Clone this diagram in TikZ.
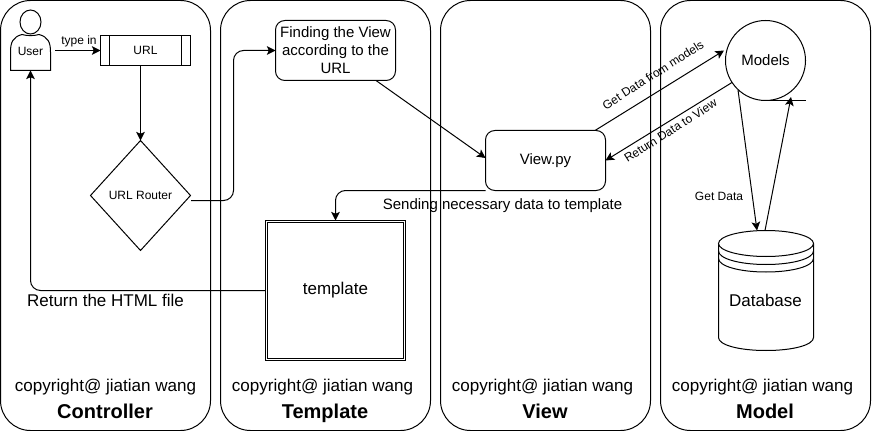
\documentclass[tikz,border=0pt]{standalone}
\usepackage{fontspec}
\setmainfont{Liberation Sans}
\usetikzlibrary{arrows.meta,shapes.geometric}
\definecolor{ink}{HTML}{000000}
\newcommand{\fs}[1]{\fontsize{#1pt}{\dimexpr#1pt*12/10\relax}\selectfont}
\tikzset{
  x=0.75pt,y=-0.75pt,
  every node/.style={inner sep=0pt,outer sep=0pt,text=ink},
  line/.style={draw=ink,line width=0.75pt},
  panel/.style={line,rounded corners=22.5pt},
  arrow/.style={line,-{Stealth[length=6.5pt,width=6.5pt,inset=1.5pt]}},
  elbow/.style={arrow,rounded corners=7.5pt},
  copyline/.style={font=\fs{12.8},anchor=base},
  paneltitle/.style={font=\fs{15}\bfseries,anchor=base},
  lbl/.style={font=\fs{9}},
  lblm/.style={font=\fs{11.25}}
}
\begin{document}
\begin{tikzpicture}
\useasboundingbox (0,0) rectangle (881,431);
\fill[white] (0,0) rectangle (881,431);
% panels
\draw[panel] (0.5,0.5) rectangle (210.5,430.5);
\draw[panel] (220.5,0.5) rectangle (430.5,430.5);
\draw[panel] (440.5,0.5) rectangle (650.5,430.5);
\draw[panel] (660.5,0.5) rectangle (870.5,430.5);
\node[copyline] (c1) at (105.5,391) {copyright@ jiatian wang};
\node[copyline] (c2) at (322.5,391) {copyright@ jiatian wang};
\node[copyline] (c3) at (542.5,391) {copyright@ jiatian wang};
\node[copyline] (c4) at (762.5,391) {copyright@ jiatian wang};
\node[paneltitle] (t1) at (105,418) {Controller};
\node[paneltitle] (t2) at (325,418) {Template};
\node[paneltitle] (t3) at (545,418) {View};
\node[paneltitle] (t4) at (765,418) {Model};
% user
\draw[line,fill=white] (30.5,22) ellipse [x radius=10.5,y radius=12];
\draw[line,fill=white] (10.5,70.5) -- (10.5,52) .. controls (10.5,42) and (13,37) .. (22,34.5)
   .. controls (27,36) and (34,36) .. (39,34.5) .. controls (48,37) and (50.5,42) .. (50.5,52) -- (50.5,70.5) -- cycle;
\node[lbl] (user) at (30.5,51) {User};
\coordinate (userR) at (55,50.5);
\coordinate (userB) at (30.5,70.5);
% url
\node[line,minimum width=67.5pt,minimum height=22.5pt,fill=white,lbl] (url) at (145.5,50.5) {URL};
\draw[line] (109.5,35.5) -- (109.5,65.5) (181.5,35.5) -- (181.5,65.5);
% diamond
\node[line,diamond,minimum width=75pt,minimum height=82.5pt,fill=white,lbl] (router) at (140.5,195.5) {URL Router};
\coordinate (routerR) at (191,200.5);
% find
\node[line,rounded corners=7pt,minimum width=90pt,minimum height=45pt,fill=white,align=center,font=\fs{11.25}] (find) at (335.5,50.5)
 {Finding the View\\according to the\\URL};
\coordinate (findB) at (376,80.5);
% view
\node[line,rounded corners=7pt,minimum width=90pt,minimum height=45pt,fill=white,lblm] (view) at (545.5,160.5) {View.py};
\coordinate (viewT) at (595,130.5);
\coordinate (viewR) at (605.5,160.5);
\coordinate (viewL) at (485.5,158);
\coordinate (viewBL) at (485.5,190.5);
% template
\node[line,minimum width=105pt,minimum height=105pt,fill=white,font=\fs{12.75}] (tpl) at (335.5,290.5) {template};
\draw[line] (267.8,222.8) rectangle (403.2,358.2);
\coordinate (tplL) at (265.5,290.5);
\coordinate (tplT) at (335.5,220.5);
% models
\node[line,circle,minimum size=60pt,fill=white,lblm] (models) at (765.5,60.5) {Models};
\coordinate (mA) at (724,50.5);
\coordinate (mB) at (732,82.5);
\coordinate (mC) at (738,90);
\coordinate (mD) at (791,97);
\coordinate (mTailA) at (765.5,100.5);
\coordinate (mTailB) at (806,100.5);
% database
\draw[line,fill=white] (718.5,243.5) -- (718.5,337.5) .. controls (718.5,345) and (739,350.5) .. (766,350.5)
  .. controls (793,350.5) and (813.5,345) .. (813.5,337.5) -- (813.5,243.5);
\draw[line,fill=white] (766,243.5) ellipse [x radius=47.5,y radius=13];
\draw[line] (718.5,251) .. controls (718.5,258.5) and (739,264.5) .. (766,264.5) .. controls (793,264.5) and (813.5,258.5) .. (813.5,251);
\draw[line] (718.5,258.5) .. controls (718.5,266) and (739,272) .. (766,272) .. controls (793,272) and (813.5,266) .. (813.5,258.5);
\node[font=\fs{12.75}] (db) at (765.5,300.5) {Database};
\coordinate (dbA) at (757,230.5);
\coordinate (dbB) at (765,230.5);
% connectors
\draw[arrow] (userR) -- (url.west);
\coordinate (urlS) at (140.5,65.5);
\draw[arrow] (urlS) -- (router.north);
\draw[elbow] (routerR) -- (233.5,200.5) -- (233.5,50.5) -- (find.west);
\draw[arrow] (findB) -- (viewL);
\draw[elbow] (viewBL) -- (335.5,190.5) -- (tplT);
\draw[elbow] (tplL) -- (30.5,290.5) -- (userB);
\draw[arrow] (viewT) -- (mA);
\draw[arrow] (mB) -- (viewR);
\draw[arrow] (mC) -- (dbA);
\draw[arrow] (dbB) -- (mD);
\draw[line] (mTailA) -- (mTailB);
% labels
\node[lbl] (l1) at (79,41) {type in};
\node[lbl,rotate=32.5] (l2) at (653,75) {Get Data from models};
\node[lbl,rotate=32.5] (l3) at (670.5,130.5) {Return Data to View};
\node[lbl] (l4) at (719,196) {Get Data};
\node[font=\fs{11.25}] (l5) at (502.5,205.5) {Sending necessary data to template};
\node[font=\fs{12.75}] (l6) at (105.5,300.5) {Return the HTML file};
\end{tikzpicture}
\end{document}
